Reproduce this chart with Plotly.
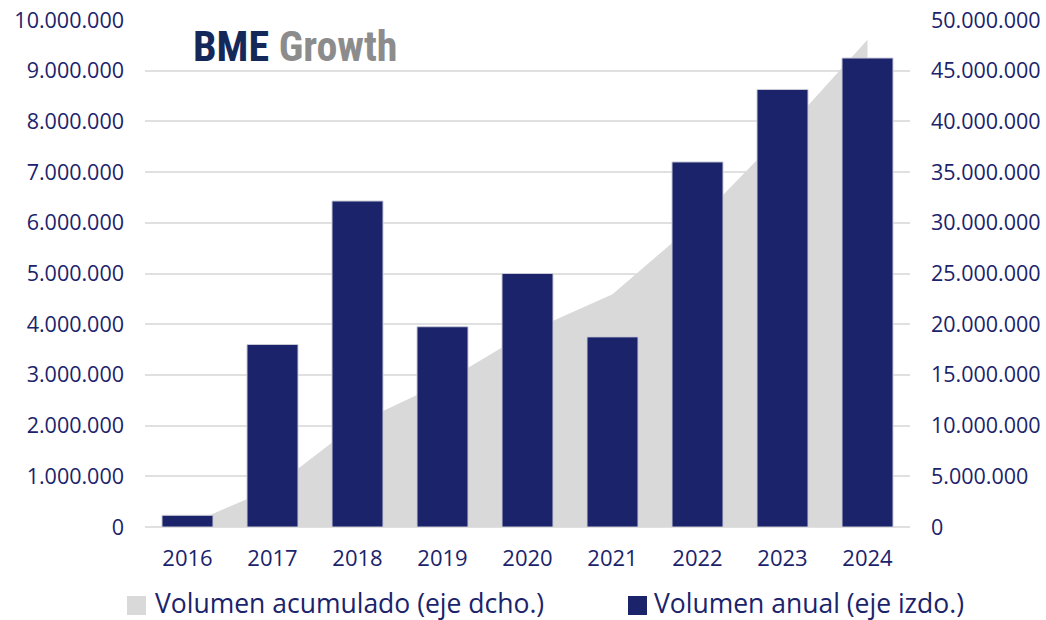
import plotly.graph_objects as go

years = ["2016", "2017", "2018", "2019", "2020", "2021", "2022", "2023", "2024"]
annual = [230000, 3600000, 6430000, 3950000, 5000000, 3750000, 7200000, 8630000, 9250000]
cumulative = [230000, 3830000, 10260000, 14210000, 19210000, 22960000, 30160000, 38790000, 48040000]

left_ticks = [0, 1000000, 2000000, 3000000, 4000000, 5000000, 6000000, 7000000, 8000000, 9000000, 10000000]
right_ticks = [0, 5000000, 10000000, 15000000, 20000000, 25000000, 30000000, 35000000, 40000000, 45000000, 50000000]

NAME_CUM = "Volumen acumulado (eje dcho.)"
NAME_ANN = "Volumen anual (eje izdo.)"

NAVY = "#1B236B"
GREY = "#D9D9D9"
FONT = "Open Sans"

W, H = 1046, 620
L, R, T, B = 145, 136, 20, 93
PW, PH = W - L - R, H - T - B


def px_x(px):
    return (px - L) / PW


def px_y(py):
    return (H - B - py) / PH


fig = go.Figure()
fig.add_trace(go.Scatter(
    x=years, y=cumulative, name=NAME_CUM,
    mode="none", fill="tozeroy", fillcolor=GREY, yaxis="y", showlegend=False,
    hoverinfo="skip",
))
fig.add_trace(go.Bar(
    x=years, y=annual, name=NAME_ANN, showlegend=False,
    marker=dict(color=NAVY, line=dict(color="#C9CBD6", width=1)), width=0.6, yaxis="y2",
))

fig.update_layout(
    width=W, height=H, autosize=False,
    margin=dict(l=L, r=R, t=T, b=B, autoexpand=False),
    paper_bgcolor="white", plot_bgcolor="white",
    separators=",.",
    font=dict(family=FONT, color=NAVY, size=21),
    showlegend=False,
    xaxis=dict(type="category", showgrid=False, showline=False, ticks="", automargin=False,
               ticklabelstandoff=16, tickfont=dict(size=22, color=NAVY)),
    yaxis=dict(side="right", range=[0, 50000000], tickvals=right_ticks, tickformat=",d",
               automargin=False,
               showgrid=True, gridcolor="#E0E0E0", gridwidth=1.5, zeroline=True,
               zerolinecolor="#E0E0E0", zerolinewidth=1.5, ticklabelstandoff=20,
               tickfont=dict(size=21.5, color=NAVY)),
    yaxis2=dict(side="left", overlaying="y", range=[0, 10000000], tickvals=left_ticks,
                automargin=False,
                tickformat=",d", showgrid=False, zeroline=False, ticklabelstandoff=20,
                tickfont=dict(size=21.5, color=NAVY)),
    bargap=0.4,
)

# logo
fig.add_annotation(
    xref="paper", yref="paper", x=px_x(191), y=px_y(46), xanchor="left", yanchor="middle",
    text="<b><span style='color:#14295A'>BME</span></b> <b><span style='color:#8C8C8C'>Growth</span></b>",
    showarrow=False, font=dict(size=42, family="Liberation Sans Narrow, Roboto Condensed, Liberation Sans"),
)

# manual legend
legend_items = [(127, 153, GREY, NAME_CUM), (628, 652, NAVY, NAME_ANN)]
for sx, tx, col, name in legend_items:
    fig.add_shape(type="rect", xref="paper", yref="paper",
                  x0=px_x(sx), x1=px_x(sx + 19), y0=px_y(596), y1=px_y(615),
                  fillcolor=col, line=dict(width=0))
    fig.add_annotation(xref="paper", yref="paper", x=px_x(tx), y=px_y(603),
                       xanchor="left", yanchor="middle", text=name, showarrow=False,
                       font=dict(size=26.5, color=NAVY, family=FONT))

fig.write_html("out.html", config={"displayModeBar": False, "responsive": False},
               post_script="document.body.style.margin='0';document.body.style.overflow='hidden';")
